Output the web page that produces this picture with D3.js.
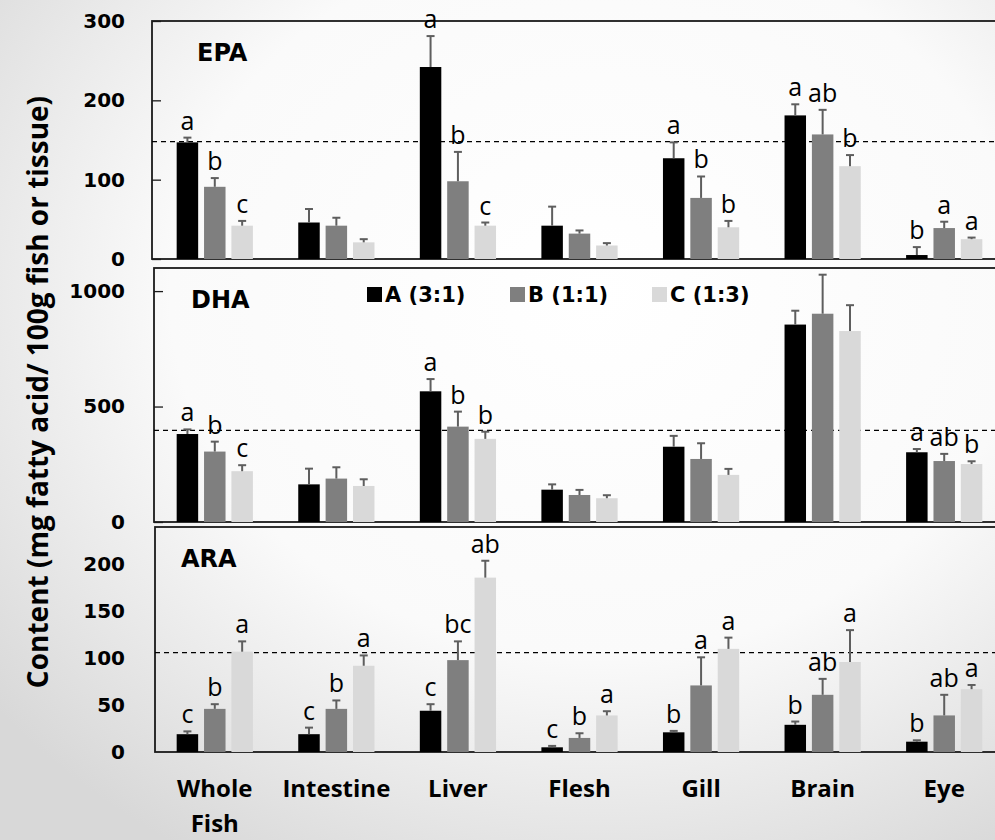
<!DOCTYPE html>
<html>
<head>
<meta charset="utf-8">
<script src="https://cdn.jsdelivr.net/npm/d3@7"></script>
<style>
  html, body { margin: 0; padding: 0; background: #fff; }
  svg { display: block; }
</style>
</head>
<body>
<svg id="chart" width="995" height="840"></svg>
<script>
// Tissues and diets
const categories = ["Whole Fish", "Intestine", "Liver", "Flesh", "Gill", "Brain", "Eye"];
const diets = ["A (3:1)", "B (1:1)", "C (1:3)"];

// EPA content, mg / 100 g (mean and SD per tissue, diets A, B, C)
const epaMean = [[147, 91, 42], [46, 42, 21], [242, 98, 42], [42, 32, 17], [127, 77, 40], [181, 157, 117], [5, 39, 25]];
const epaErr  = [[6, 11, 6], [17, 10, 4], [39, 37, 4], [24, 4, 3], [20, 27, 8], [14, 31, 14], [10, 8, 2]];
const epaLetters = [["a", "b", "c"], ["", "", ""], ["a", "b", "c"], ["", "", ""], ["a", "b", "b"], ["a", "ab", "b"], ["b", "a", "a"]];
const epaRef = 148;
const epaTicks = [0, 100, 200, 300];

// DHA content
const dhaMean = [[381, 305, 220], [163, 188, 156], [566, 413, 360], [140, 117, 103], [326, 273, 204], [855, 902, 827], [302, 264, 251]];
const dhaErr  = [[20, 43, 26], [68, 49, 29], [53, 65, 31], [23, 22, 13], [47, 68, 26], [60, 169, 112], [14, 31, 12]];
const dhaLetters = [["a", "b", "c"], ["", "", ""], ["a", "b", "b"], ["", "", ""], ["", "", ""], ["", "", ""], ["a", "ab", "b"]];
const dhaRef = 397;
const dhaTicks = [0, 500, 1000];

// ARA content
const araMean = [[19, 46, 107], [19, 46, 92], [44, 98, 186], [5, 15, 39], [21, 71, 110], [29, 61, 96], [11, 39, 67]];
const araErr  = [[3, 5, 11], [7, 9, 11], [7, 20, 18], [1.5, 5, 4.5], [1.5, 30, 12], [3.5, 17, 34], [1.5, 22, 4.5]];
const araLetters = [["c", "b", "a"], ["c", "b", "a"], ["c", "bc", "ab"], ["c", "b", "a"], ["b", "a", "a"], ["b", "ab", "a"], ["b", "ab", "a"]];
const araRef = 106;
const araTicks = [0, 50, 100, 150, 200];

const yTitle = "Content (mg fatty acid/ 100g fish or tissue)";

// ---- drawing ----
const W = 995, H = 840;
const colors = ["#000000", "#7f7f7f", "#d9d9d9"];
const svg = d3.select("#chart");

// soft vignette behind the figure
const defs = svg.append("defs");
const grad = defs.append("radialGradient").attr("id", "bg")
  .attr("cx", "60%").attr("cy", "35%").attr("r", "78%");
grad.append("stop").attr("offset", "0%").attr("stop-color", "#ffffff");
grad.append("stop").attr("offset", "55%").attr("stop-color", "#fafafa");
grad.append("stop").attr("offset", "100%").attr("stop-color", "#d8d8d8");
svg.append("rect").attr("width", W).attr("height", H).attr("fill", "url(#bg)");

const plotLeft = 154, plotRight = 1005;
const x0 = d3.scaleBand().domain(categories).range([plotLeft, plotRight])
  .paddingInner(0.373).paddingOuter(0.1865);
const x1 = d3.scaleBand().domain(diets).range([0, x0.bandwidth()])
  .paddingInner(0.215).paddingOuter(0);

const panels = [
  { name: "EPA", mean: epaMean, err: epaErr, letters: epaLetters, ref: epaRef, ticks: epaTicks,
    max: 300, top: 21, bottom: 259, left: 152, innerTicks: true, titleX: 197 },
  { name: "DHA", mean: dhaMean, err: dhaErr, letters: dhaLetters, ref: dhaRef, ticks: dhaTicks,
    max: 1100, top: 268, bottom: 522, left: 154, innerTicks: true, titleX: 191 },
  { name: "ARA", mean: araMean, err: araErr, letters: araLetters, ref: araRef, ticks: araTicks,
    max: 240, top: 527, bottom: 752, left: 155, innerTicks: false, titleX: 181 }
];

panels.forEach(p => {
  const y = d3.scaleLinear().domain([0, p.max]).range([p.bottom, p.top]);
  const g = svg.append("g");

  // frame
  g.append("rect").attr("x", p.left).attr("y", y(p.max)).attr("width", plotRight + 10 - p.left)
    .attr("height", y(0) - y(p.max)).attr("fill", "none").attr("stroke", "#1a1a1a").attr("stroke-width", 1.8);

  // y axis labels + short inward ticks
  const axis = d3.axisLeft(y).tickValues(p.ticks).tickFormat(d3.format("d"))
    .tickSize(p.innerTicks ? -9 : 0).tickPadding(0);
  const ax = g.append("g").attr("transform", `translate(${p.left},0)`).call(axis);
  ax.select(".domain").remove();
  ax.selectAll(".tick line").attr("stroke", "#1a1a1a").attr("stroke-width", 1.3);
  ax.selectAll(".tick text")
    .attr("x", 125 - p.left)
    .attr("font-family", "'DejaVu Sans', sans-serif").attr("font-weight", "bold")
    .attr("font-size", 20).attr("fill", "#000");

  // reference dashed line
  g.append("line").attr("x1", p.left).attr("x2", plotRight + 10)
    .attr("y1", y(p.ref)).attr("y2", y(p.ref))
    .attr("stroke", "#000").attr("stroke-width", 1.2).attr("stroke-dasharray", "5,4");

  // panel title
  g.append("text").attr("x", p.titleX).attr("y", y(p.max) + 40)
    .attr("font-family", "'DejaVu Sans', sans-serif").attr("font-weight", "bold")
    .attr("font-size", 24).text(p.name);

  // bars, error bars and letters
  const rows = [];
  categories.forEach((c, i) => diets.forEach((d, j) => rows.push({
    cat: c, diet: d, j, v: p.mean[i][j], e: p.err[i][j], l: p.letters[i][j]
  })));

  const grp = g.selectAll(".bar").data(rows).enter().append("g");
  grp.append("rect")
    .attr("x", r => x0(r.cat) + x1(r.diet))
    .attr("width", x1.bandwidth())
    .attr("y", r => y(r.v))
    .attr("height", r => y(0) - y(r.v))
    .attr("fill", r => colors[r.j]);

  const cx = r => x0(r.cat) + x1(r.diet) + x1.bandwidth() / 2;
  grp.append("line")
    .attr("x1", cx).attr("x2", cx)
    .attr("y1", r => y(r.v)).attr("y2", r => y(r.v + r.e))
    .attr("stroke", "#5e5e5e").attr("stroke-width", 2);
  grp.append("line")
    .attr("x1", r => cx(r) - 4).attr("x2", r => cx(r) + 4)
    .attr("y1", r => y(r.v + r.e)).attr("y2", r => y(r.v + r.e))
    .attr("stroke", "#5e5e5e").attr("stroke-width", 2);
  grp.filter(r => r.l).append("text")
    .attr("x", cx).attr("y", r => y(r.v + r.e) - 8)
    .attr("text-anchor", "middle")
    .attr("font-family", "'Open Sans', sans-serif").attr("font-size", 25)
    .attr("fill", "#000").text(r => r.l);
});

// legend (inside DHA panel)
const legendX = [367, 510, 652];
const lg = svg.append("g");
diets.forEach((d, j) => {
  lg.append("rect").attr("x", legendX[j]).attr("y", 287).attr("width", 15).attr("height", 15)
    .attr("fill", colors[j]);
  lg.append("text").attr("x", legendX[j] + 18).attr("y", 302)
    .attr("font-family", "'DejaVu Sans', sans-serif").attr("font-weight", "bold")
    .attr("font-size", 21).text(d);
});

// category labels
const catG = svg.append("g");
categories.forEach(c => {
  const words = c === "Whole Fish" ? ["Whole", "Fish"] : [c];
  const t = catG.append("text").attr("text-anchor", "middle")
    .attr("font-family", "'Open Sans', sans-serif").attr("font-weight", "bold")
    .attr("font-size", 24).attr("fill", "#000");
  words.forEach((w, k) => {
    t.append("tspan").attr("x", x0(c) + x0.bandwidth() / 2).attr("y", 797 + k * 35).text(w);
  });
});

// y axis title
svg.append("text")
  .attr("transform", "translate(48,392) rotate(-90)")
  .attr("text-anchor", "middle")
  .attr("font-family", "'Open Sans', sans-serif").attr("font-weight", "bold")
  .attr("font-size", 28).attr("fill", "#000")
  .text(yTitle);
</script>
</body>
</html>
